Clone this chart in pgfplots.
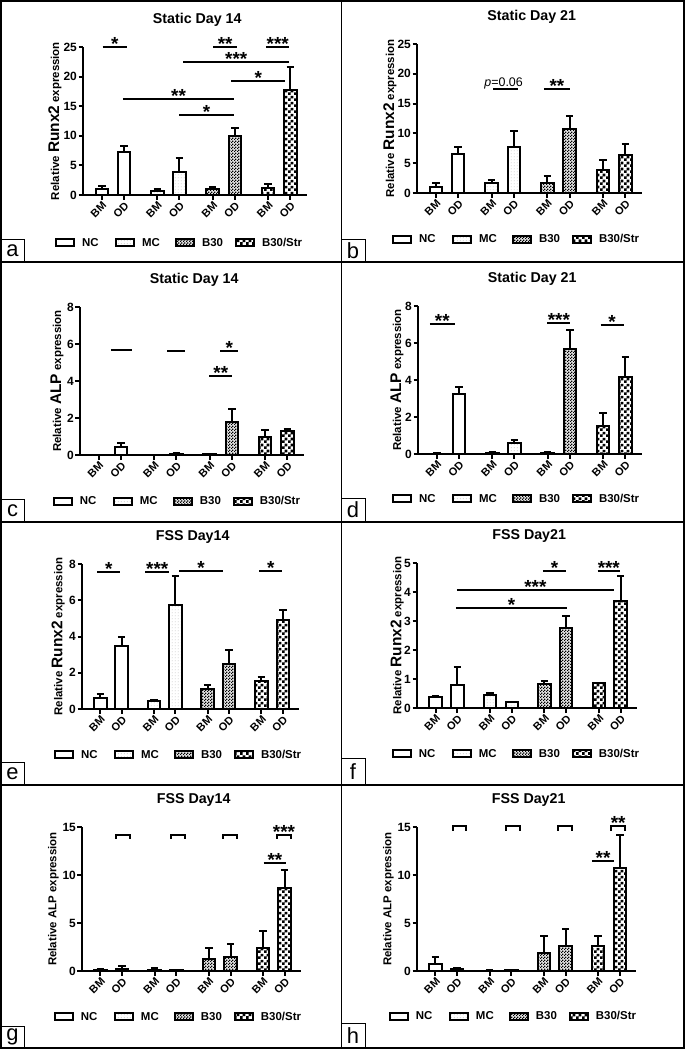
\documentclass[border=0pt]{standalone}
\usepackage{fontspec}
\setmainfont{Liberation Sans}
\usepackage{pgfplots}
\pgfplotsset{compat=1.18}
\usetikzlibrary{patterns,patterns.meta}

\pgfdeclarepattern{name=finecheck, type=uncolored,
  bottom left={\pgfpointorigin}, top right={\pgfpoint{3bp}{3bp}},
  tile size={\pgfpoint{3bp}{3bp}},
  code={\pgfpathrectangle{\pgfpointorigin}{\pgfpoint{1.5bp}{1.5bp}}
        \pgfpathrectangle{\pgfpoint{1.5bp}{1.5bp}}{\pgfpoint{1.5bp}{1.5bp}}
        \pgfusepath{fill}}}
\pgfdeclarepattern{name=bigcheck, type=uncolored,
  bottom left={\pgfpointorigin}, top right={\pgfpoint{6bp}{6bp}},
  tile size={\pgfpoint{6bp}{6bp}},
  code={\pgfpathrectangle{\pgfpointorigin}{\pgfpoint{3bp}{3bp}}
        \pgfpathrectangle{\pgfpoint{3bp}{3bp}}{\pgfpoint{3bp}{3bp}}
        \pgfusepath{fill}}}
\pgfdeclarepattern{name=finedots, type=uncolored,
  bottom left={\pgfpointorigin}, top right={\pgfpoint{3bp}{3bp}},
  tile size={\pgfpoint{3bp}{3bp}},
  code={\pgfpathcircle{\pgfpoint{1.5bp}{1.5bp}}{0.5bp}\pgfusepath{fill}}}

\newcommand\runx{\fontsize{11.5}{12}\selectfont Relative {\fontsize{15.5}{15}\selectfont Runx2} expression}
\newcommand\alpbig{\fontsize{11.5}{12}\selectfont Relative {\fontsize{15.5}{15}\selectfont ALP} expression}
\newcommand\alpsmall{\fontsize{11.5}{12}\selectfont Relative ALP expression}
\newcommand\lgd[1]{\makebox[33bp][l]{#1}}

\pgfplotsset{
  gp/.style={
    scale only axis,
    axis x line*=bottom, axis y line*=left,
    axis line style={-, line width=2bp, black},
    tick style={black, line width=2bp},
    major tick length=4.5bp,
    tick align=outside,
    xmin=-0.85, xmax=9.25, ymin=0,
    xtick={0,1,2.5,3.5,5,6,7.5,8.5},
    xticklabels={BM,OD,BM,OD,BM,OD,BM,OD},
    x tick label style={rotate=45, anchor=north east, font=\bfseries\fontsize{11}{12}\selectfont, inner sep=1bp},
    y tick label style={font=\bfseries\fontsize{12}{12}\selectfont, inner sep=1.5bp},
    /pgf/number format/assume math mode=true,
    clip=false,
    title style={font=\bfseries\fontsize{14.3}{15}\selectfont, at={(axis description cs:0.51,1)}, anchor=base, yshift=18bp},
    ylabel style={font=\bfseries, anchor=center},
    legend columns=4,
    legend cell align=left,
    legend style={draw=none, fill=none, inner sep=0pt, outer sep=0pt, anchor=west,
      font=\bfseries\fontsize{11.5}{12}\selectfont,
      /tikz/every even column/.style={column sep=0pt},
      nodes={inner sep=0pt}},
  },
  gpbar/.style={ybar, bar width=12.5bp, bar shift=0pt, draw=black, line width=2bp,
    legend image code/.code={\draw[##1, line width=2bp] (0bp,-3.5bp) rectangle (18bp,3.5bp); \path (25bp,0bp);},
    /pgfplots/error bars/y dir=plus, /pgfplots/error bars/y explicit,
    /pgfplots/error bars/error bar style={line width=2bp, black},
    /pgfplots/error bars/error mark options={rotate=90, black, line width=2bp, mark size=3.75bp}},
  nc/.style={gpbar, fill=white},
  mc/.style={gpbar, fill=white, postaction={pattern=finedots, pattern color=gray!80}},
  bt/.style={gpbar, fill=gray!20, postaction={pattern=finecheck, pattern color=black}},
  bs/.style={gpbar, fill=white, postaction={pattern=bigcheck, pattern color=black}},
  sig/.style={sharp plot, black, line width=2bp, mark=none, forget plot},
}
\tikzset{st/.style={pos=0.5, anchor=south, inner sep=0pt, yshift=-4.5bp, font=\bfseries\fontsize{19}{19}\selectfont}}

\begin{document}
\begin{tikzpicture}
\useasboundingbox (0,0) rectangle (685bp,-1049bp);

% ---------- a ----------
\begin{axis}[gp, at={(83bp,-195bp)}, anchor=south west, width=224bp, height=148bp,
  ymax=25, ytick={0,5,...,25}, title={Static Day 14},
  ylabel={\runx}, ylabel style={at={(axis description cs:-0.125,0.5)}},
  legend style={at={(axis description cs:-0.125,-0.324)}}]
\addplot[nc] table[row sep=\\,x=x,y=y,y error=e]{x y e\\0 1.0 0.6\\1 7.3 0.9\\}; \addlegendentry{\lgd{NC}}
\addplot[mc] table[row sep=\\,x=x,y=y,y error=e]{x y e\\2.5 0.7 0.35\\3.5 3.95 2.35\\}; \addlegendentry{\lgd{MC}}
\addplot[bt] table[row sep=\\,x=x,y=y,y error=e]{x y e\\5 1.0 0.3\\6 10.0 1.3\\}; \addlegendentry{\lgd{B30}}
\addplot[bs] table[row sep=\\,x=x,y=y,y error=e]{x y e\\7.5 1.1 0.8\\8.5 17.8 3.8\\}; \addlegendentry{B30/Str}
\addplot[sig] coordinates {(0.03,25) (1.14,25)} node[st] {*};
\addplot[sig] coordinates {(5.02,25) (6.1,25)} node[st] {**};
\addplot[sig] coordinates {(7.4,25) (8.46,25)} node[st] {***};
\addplot[sig] coordinates {(3.66,22.5) (8.46,22.5)} node[st] {***};
\addplot[sig] coordinates {(5.84,19.3) (8.28,19.3)} node[st] {*};
\addplot[sig] coordinates {(0.95,16.2) (5.97,16.2)} node[st] {**};
\addplot[sig] coordinates {(3.48,13.5) (5.97,13.5)} node[st] {*};
\end{axis}

% ---------- b ----------
\begin{axis}[gp, at={(417bp,-193bp)}, anchor=south west, width=225bp, height=149bp,
  ymax=25, ytick={0,5,...,25}, title={Static Day 21},
  ylabel={\runx}, ylabel style={at={(axis description cs:-0.12,0.5)}},
  legend style={at={(axis description cs:-0.111,-0.309)}}]
\addplot[nc] table[row sep=\\,x=x,y=y,y error=e]{x y e\\0 1.0 0.6\\1 6.5 1.25\\}; \addlegendentry{\lgd{NC}}
\addplot[mc] table[row sep=\\,x=x,y=y,y error=e]{x y e\\2.5 1.6 0.5\\3.5 7.75 2.65\\}; \addlegendentry{\lgd{MC}}
\addplot[bt] table[row sep=\\,x=x,y=y,y error=e]{x y e\\5 1.75 1.15\\6 10.8 2.2\\}; \addlegendentry{\lgd{B30}}
\addplot[bs] table[row sep=\\,x=x,y=y,y error=e]{x y e\\7.5 3.8 1.7\\8.5 6.35 1.95\\}; \addlegendentry{B30/Str}
\addplot[sig] coordinates {(2.58,17.5) (3.67,17.5)} node[pos=0.42, anchor=base, inner sep=0pt, yshift=2bp, font=\fontsize{12.5}{12}\selectfont] {\textit{p}=0.06};
\addplot[sig] coordinates {(4.84,17.5) (6.02,17.5)} node[st] {**};
\end{axis}

% ---------- c ----------
\begin{axis}[gp, at={(80bp,-455bp)}, anchor=south west, width=224bp, height=148bp,
  ymax=8, ytick={0,2,...,8}, title={Static Day 14},
  ylabel={\alpbig}, ylabel style={at={(axis description cs:-0.103,0.5)}},
  legend style={at={(axis description cs:-0.121,-0.311)}}]
\addplot[nc] table[row sep=\\,x=x,y=y,y error=e]{x y e\\0 0.0 0.0\\1 0.41 0.22\\}; \addlegendentry{\lgd{NC}}
\addplot[mc] table[row sep=\\,x=x,y=y,y error=e]{x y e\\2.5 0.0 0.0\\3.5 0.08 0.04\\}; \addlegendentry{\lgd{MC}}
\addplot[bt] table[row sep=\\,x=x,y=y,y error=e]{x y e\\5 0.05 0.01\\6 1.76 0.74\\}; \addlegendentry{\lgd{B30}}
\addplot[bs] table[row sep=\\,x=x,y=y,y error=e]{x y e\\7.5 0.95 0.4\\8.5 1.3 0.1\\}; \addlegendentry{B30/Str}
\addplot[sig] coordinates {(0.54,5.65) (1.49,5.65)};
\addplot[sig] coordinates {(3.08,5.62) (3.89,5.62)};
\addplot[sig] coordinates {(5.48,5.6) (6.29,5.6)} node[st] {*};
\addplot[sig] coordinates {(4.98,4.26) (6.02,4.26)} node[st] {**};
\end{axis}

% ---------- d ----------
\begin{axis}[gp, at={(418bp,-454bp)}, anchor=south west, width=224bp, height=148bp,
  ymax=8, ytick={0,2,...,8}, title={Static Day 21},
  ylabel={\alpbig}, ylabel style={at={(axis description cs:-0.094,0.5)}},
  legend style={at={(axis description cs:-0.116,-0.304)}}]
\addplot[nc] table[row sep=\\,x=x,y=y,y error=e]{x y e\\0 0.02 0.01\\1 3.23 0.41\\}; \addlegendentry{\lgd{NC}}
\addplot[mc] table[row sep=\\,x=x,y=y,y error=e]{x y e\\2.5 0.08 0.05\\3.5 0.59 0.18\\}; \addlegendentry{\lgd{MC}}
\addplot[bt] table[row sep=\\,x=x,y=y,y error=e]{x y e\\5 0.07 0.02\\6 5.65 1.04\\}; \addlegendentry{\lgd{B30}}
\addplot[bs] table[row sep=\\,x=x,y=y,y error=e]{x y e\\7.5 1.54 0.7\\8.5 4.18 1.08\\}; \addlegendentry{B30/Str}
\addplot[sig] coordinates {(-0.32,7.05) (0.81,7.05)} node[st] {**};
\addplot[sig] coordinates {(4.98,7.08) (6.02,7.08)} node[st] {***};
\addplot[sig] coordinates {(7.38,7.0) (8.42,7.0)} node[st] {*};
\end{axis}

% ---------- e ----------
\begin{axis}[gp, at={(82bp,-709bp)}, anchor=south west, width=217bp, height=145bp,
  ymax=8, ytick={0,2,...,8}, title={FSS Day14},
  ylabel={\runx}, ylabel style={at={(axis description cs:-0.11,0.5)}},
  legend style={at={(axis description cs:-0.129,-0.317)}}]
\addplot[nc] table[row sep=\\,x=x,y=y,y error=e]{x y e\\0 0.59 0.22\\1 3.47 0.52\\}; \addlegendentry{\lgd{NC}}
\addplot[mc] table[row sep=\\,x=x,y=y,y error=e]{x y e\\2.5 0.44 0.03\\3.5 5.74 1.61\\}; \addlegendentry{\lgd{MC}}
\addplot[bt] table[row sep=\\,x=x,y=y,y error=e]{x y e\\5 1.08 0.24\\6 2.48 0.77\\}; \addlegendentry{\lgd{B30}}
\addplot[bs] table[row sep=\\,x=x,y=y,y error=e]{x y e\\7.5 1.54 0.24\\8.5 4.9 0.56\\}; \addlegendentry{B30/Str}
\addplot[sig] coordinates {(-0.14,7.57) (0.93,7.57)} node[st] {*};
\addplot[sig] coordinates {(2.09,7.57) (3.21,7.57)} node[st] {***};
\addplot[sig] coordinates {(3.67,7.6) (5.72,7.6)} node[st] {*};
\addplot[sig] coordinates {(7.4,7.6) (8.47,7.6)} node[st] {*};
\end{axis}

% ---------- f ----------
\begin{axis}[gp, at={(417bp,-708bp)}, anchor=south west, width=220bp, height=145bp,
  ymax=5, ytick={0,1,...,5}, title={FSS Day21},
  ylabel={\runx}, ylabel style={at={(axis description cs:-0.09,0.5)}},
  legend style={at={(axis description cs:-0.114,-0.317)}}]
\addplot[nc] table[row sep=\\,x=x,y=y,y error=e]{x y e\\0 0.37 0.05\\1 0.78 0.62\\}; \addlegendentry{\lgd{NC}}
\addplot[mc] table[row sep=\\,x=x,y=y,y error=e]{x y e\\2.5 0.45 0.07\\3.5 0.2 0.0\\}; \addlegendentry{\lgd{MC}}
\addplot[bt] table[row sep=\\,x=x,y=y,y error=e]{x y e\\5 0.83 0.09\\6 2.75 0.41\\}; \addlegendentry{\lgd{B30}}
\addplot[bs] table[row sep=\\,x=x,y=y,y error=e]{x y e\\7.5 0.86 0.01\\8.5 3.7 0.84\\}; \addlegendentry{B30/Str}
\addplot[sig] coordinates {(4.93,4.74) (6.0,4.74)} node[st] {*};
\addplot[sig] coordinates {(7.44,4.74) (8.47,4.74)} node[st] {***};
\addplot[sig] coordinates {(0.98,4.07) (8.19,4.07)} node[st] {***};
\addplot[sig] coordinates {(0.93,3.45) (6.05,3.45)} node[st] {*};
\end{axis}

% ---------- g ----------
\begin{axis}[gp, at={(82bp,-971bp)}, anchor=south west, width=219bp, height=144bp,
  ymax=15, ytick={0,5,...,15}, title={FSS Day14},
  ylabel={\alpsmall}, ylabel style={at={(axis description cs:-0.13,0.5)}},
  legend style={at={(axis description cs:-0.128,-0.319)}}]
\addplot[nc] table[row sep=\\,x=x,y=y,y error=e]{x y e\\0 0.14 0.1\\1 0.24 0.25\\}; \addlegendentry{\lgd{NC}}
\addplot[mc] table[row sep=\\,x=x,y=y,y error=e]{x y e\\2.5 0.14 0.14\\3.5 0.07 0.02\\}; \addlegendentry{\lgd{MC}}
\addplot[bt] table[row sep=\\,x=x,y=y,y error=e]{x y e\\5 1.22 1.21\\6 1.46 1.32\\}; \addlegendentry{\lgd{B30}}
\addplot[bs] table[row sep=\\,x=x,y=y,y error=e]{x y e\\7.5 2.43 1.7\\8.5 8.65 1.84\\}; \addlegendentry{B30/Str}
\addplot[sig] coordinates {(0.7,13.8) (0.7,14.2) (1.35,14.2) (1.35,13.8)};
\addplot[sig] coordinates {(3.26,13.8) (3.26,14.2) (3.9,14.2) (3.9,13.8)};
\addplot[sig] coordinates {(5.67,13.8) (5.67,14.2) (6.28,14.2) (6.28,13.8)};
\addplot[sig] coordinates {(8.14,13.8) (8.14,14.2) (8.79,14.2) (8.79,13.8)} node[st] {***};
\addplot[sig] coordinates {(7.53,11.28) (8.56,11.28)} node[st] {**};
\end{axis}

% ---------- h ----------
\begin{axis}[gp, at={(417bp,-971bp)}, anchor=south west, width=219bp, height=144bp,
  ymax=15, ytick={0,5,...,15}, title={FSS Day21},
  ylabel={\alpsmall}, ylabel style={at={(axis description cs:-0.13,0.5)}},
  legend style={at={(axis description cs:-0.128,-0.3125)}}]
\addplot[nc] table[row sep=\\,x=x,y=y,y error=e]{x y e\\0 0.76 0.7\\1 0.17 0.11\\}; \addlegendentry{\lgd{NC}}
\addplot[mc] table[row sep=\\,x=x,y=y,y error=e]{x y e\\2.5 0.05 0.01\\3.5 0.1 0.02\\}; \addlegendentry{\lgd{MC}}
\addplot[bt] table[row sep=\\,x=x,y=y,y error=e]{x y e\\5 1.88 1.72\\6 2.57 1.83\\}; \addlegendentry{\lgd{B30}}
\addplot[bs] table[row sep=\\,x=x,y=y,y error=e]{x y e\\7.5 2.6 1.05\\8.5 10.73 3.47\\}; \addlegendentry{B30/Str}
\addplot[sig] coordinates {(0.83,14.6) (0.83,15.1) (1.39,15.1) (1.39,14.6)};
\addplot[sig] coordinates {(3.24,14.6) (3.24,15.1) (3.89,15.1) (3.89,14.6)};
\addplot[sig] coordinates {(5.65,14.6) (5.65,15.1) (6.3,15.1) (6.3,14.6)};
\addplot[sig] coordinates {(8.1,14.6) (8.1,15.1) (8.75,15.1) (8.75,14.6)} node[st] {**};
\addplot[sig] coordinates {(7.22,11.5) (8.24,11.5)} node[st] {**};
\end{axis}

% ---------- frames ----------
\draw[line width=2bp] (1bp,-1bp) rectangle (684bp,-1048bp);
\draw[line width=1.5bp] (341.5bp,0bp) -- (341.5bp,-1049bp);
\draw[line width=1.5bp] (0bp,-262bp) -- (685bp,-262bp);
\draw[line width=1.5bp] (0bp,-522bp) -- (685bp,-522bp);
\draw[line width=1.5bp] (0bp,-785bp) -- (685bp,-785bp);
\tikzset{lb/.style={font=\fontsize{22}{22}\selectfont, inner sep=0pt}}
\draw[line width=0.8bp] (1bp,-239bp) rectangle (24bp,-262bp); \node[lb] at (12.5bp,-250.5bp) {a};
\draw[line width=0.8bp] (341.5bp,-239bp) rectangle (365bp,-262bp); \node[lb] at (353bp,-250.5bp) {b};
\draw[line width=0.8bp] (1bp,-499bp) rectangle (24bp,-522bp); \node[lb] at (12.5bp,-510.5bp) {c};
\draw[line width=0.8bp] (341.5bp,-498bp) rectangle (365bp,-522bp); \node[lb] at (353bp,-510bp) {d};
\draw[line width=0.8bp] (1bp,-762bp) rectangle (24bp,-785bp); \node[lb] at (12.5bp,-773.5bp) {e};
\draw[line width=0.8bp] (341.5bp,-758bp) rectangle (365bp,-785bp); \node[lb] at (353bp,-771.5bp) {f};
\draw[line width=0.8bp] (1bp,-1026bp) rectangle (24bp,-1048bp); \node[lb] at (12.5bp,-1037bp) {g};
\draw[line width=0.8bp] (341.5bp,-1023bp) rectangle (365bp,-1048bp); \node[lb] at (353bp,-1035.5bp) {h};
\end{tikzpicture}
\end{document}
